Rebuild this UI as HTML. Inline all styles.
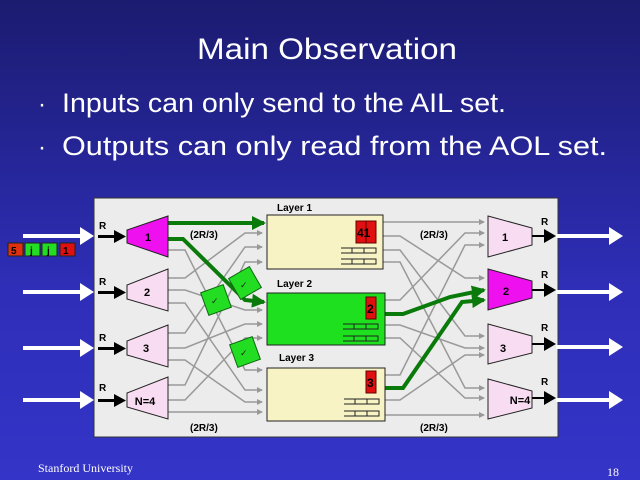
<!DOCTYPE html>
<html><head><style>
html,body{margin:0;padding:0;}
body{width:640px;height:480px;overflow:hidden;background:linear-gradient(#1b1b70,#2e2eb8 60%,#3434c8);}
svg{display:block;}
</style></head><body>
<svg width="640" height="480" viewBox="0 0 640 480" xmlns="http://www.w3.org/2000/svg" font-family="Liberation Sans, sans-serif">
<defs>
<marker id="ga" markerWidth="6" markerHeight="6" refX="5" refY="3" orient="auto" markerUnits="userSpaceOnUse"><path d="M0,0L6,3L0,6z" fill="#999"/></marker>
<marker id="gg" markerWidth="14" markerHeight="14" refX="12" refY="7" orient="auto" markerUnits="userSpaceOnUse"><path d="M0,0L14,7L0,14z" fill="#0a7a0a"/></marker>
</defs>
<text x="197" y="59" fill="#fff" font-size="30" textLength="260" lengthAdjust="spacingAndGlyphs">Main Observation</text>
<text x="38" y="112" fill="#fff" font-size="24">·</text>
<text x="62" y="112" fill="#fff" font-size="27" textLength="444" lengthAdjust="spacingAndGlyphs">Inputs can only send to the AIL set.</text>
<text x="38" y="155" fill="#fff" font-size="24">·</text>
<text x="62" y="155" fill="#fff" font-size="27" textLength="545" lengthAdjust="spacingAndGlyphs">Outputs can only read from the AOL set.</text>

<rect x="94" y="198" width="464" height="239" fill="#ececec" stroke="#333"/>

<g stroke="#999" stroke-width="1.5" fill="none" marker-end="url(#ga)">
<path d="M168,250 L185,250 L245,370 L262,370"/>
<path d="M168,278 L185,278 L245,233 L262,233"/>
<path d="M168,290 L185,290 L245,310 L262,310"/>
<path d="M168,303 L185,303 L245,390 L262,390"/>
<path d="M168,333 L185,333 L245,247 L262,247"/>
<path d="M168,348 L185,348 L245,324 L262,324"/>
<path d="M168,360 L185,360 L245,402 L262,402"/>
<path d="M168,385 L185,385 L245,262 L262,262"/>
<path d="M168,400 L185,400 L245,338 L262,338"/>
<path d="M168,412 L185,412 L262,412"/>
<path d="M383,222 L484,222"/>
<path d="M383,236 L400,236 L465,278 L484,278"/>
<path d="M383,250 L400,250 L465,336 L484,336"/>
<path d="M383,262 L400,262 L465,388 L484,388"/>
<path d="M383,300 L400,300 L465,233 L484,233"/>
<path d="M383,325 L400,325 L465,348 L484,348"/>
<path d="M383,338 L400,338 L465,398 L484,398"/>
<path d="M383,375 L400,375 L465,245 L484,245"/>
<path d="M383,400 L400,400 L465,355 L484,355"/>
<path d="M383,415 L484,415"/>
</g>
<g stroke="#0a7a0a" stroke-width="4" fill="none" marker-end="url(#gg)">
<path d="M168,223 L264,223"/>
<path d="M168,239 L183,239 L245,300 L264,302"/>
<path d="M385,314 L403,314 L450,297 L484,290"/>
<path d="M385,388 L403,388 L462,302 L484,300"/>
</g>

<text x="277" y="211" font-size="10" font-weight="bold">Layer 1</text>
<text x="277" y="287" font-size="10" font-weight="bold">Layer 2</text>
<text x="279" y="361" font-size="10" font-weight="bold">Layer 3</text>
<rect x="267" y="215" width="116" height="54" fill="#f7f3c4" stroke="#222"/>
<rect x="267" y="293" width="118" height="52" fill="#1ee01e" stroke="#222"/>
<rect x="267" y="368" width="118" height="53" fill="#f7f3c4" stroke="#222"/>
<rect x="356" y="221" width="20" height="22" fill="#e01010" stroke="#600"/>
<line x1="366" y1="221" x2="366" y2="243" stroke="#600"/>
<text x="357" y="237" font-size="12" font-weight="bold">41</text>
<rect x="366" y="297" width="10" height="22" fill="#e01010" stroke="#600"/>
<text x="367" y="313" font-size="12" font-weight="bold">2</text>
<rect x="366" y="371" width="10" height="22" fill="#e01010" stroke="#600"/>
<text x="367" y="387" font-size="12" font-weight="bold">3</text>
<g stroke="#222" fill="none" stroke-width="1">
<path d="M341,248h35v5h-35M352,248v5M364,248v5M341,259h35v5h-35M352,259v5M364,259v5"/>
<path d="M343,324h35v5h-35M354,324v5M366,324v5M343,336h35v5h-35M354,336v5M366,336v5"/>
<path d="M344,399h35v5h-35M355,399v5M367,399v5M344,411h35v5h-35M355,411v5M367,411v5"/>
</g>

<g fill="#22dd22" stroke="#116611">
<rect x="-12" y="-12" width="24" height="24" transform="translate(245,283) rotate(-30)"/>
<rect x="-12" y="-12" width="24" height="24" transform="translate(216,300) rotate(-20)"/>
<rect x="-12" y="-12" width="24" height="24" transform="translate(245,352) rotate(-20)"/>
</g>
<g font-size="9" fill="#222"><text x="240" y="288">✓</text><text x="211" y="304">✓</text><text x="240" y="356">✓</text></g>

<polygon points="127,230 168,216 168,257 127,243" fill="#ee10ee" stroke="#222"/>
<polygon points="127,285 168,269 168,311 127,299" fill="#f8ddf2" stroke="#222"/>
<polygon points="127,341 168,325 168,367 127,355" fill="#f8ddf2" stroke="#222"/>
<polygon points="127,393 168,377 168,419 127,407" fill="#f8ddf2" stroke="#222"/>
<g font-size="11" font-weight="bold" text-anchor="middle">
<text x="148" y="241">1</text><text x="147" y="296">2</text><text x="146" y="352">3</text><text x="145" y="405">N=4</text>
</g>
<polygon points="488,216 532,228 532,245 488,257" fill="#f8ddf2" stroke="#222"/>
<polygon points="488,269 532,281 532,298 488,310" fill="#ee10ee" stroke="#222"/>
<polygon points="488,324 532,336 532,353 488,364" fill="#f8ddf2" stroke="#222"/>
<polygon points="488,379 532,391 532,408 488,419" fill="#f8ddf2" stroke="#222"/>
<g font-size="11" font-weight="bold" text-anchor="middle">
<text x="505" y="241">1</text><text x="506" y="295">2</text><text x="503" y="352">3</text><text x="520" y="404">N=4</text>
</g>

<g font-size="10" font-weight="bold">
<text x="99" y="229">R</text><text x="99" y="285">R</text><text x="99" y="341">R</text><text x="99" y="391">R</text>
<text x="541" y="225">R</text><text x="541" y="278">R</text><text x="541" y="331">R</text><text x="541" y="385">R</text>
</g>
<g font-size="10" font-weight="bold">
<text x="190" y="238">(2R/3)</text><text x="420" y="238">(2R/3)</text>
<text x="190" y="431">(2R/3)</text><text x="420" y="431">(2R/3)</text>
</g>
<g>
<path d="M98,235h16v-5l12,6.5l-12,6.5v-5h-16z" fill="#000"/>
<path d="M98,291h16v-5l12,6.5l-12,6.5v-5h-16z" fill="#000"/>
<path d="M98,347h16v-5l12,6.5l-12,6.5v-5h-16z" fill="#000"/>
<path d="M98,399h16v-5l12,6.5l-12,6.5v-5h-16z" fill="#000"/>
<path d="M532,235h12v-6l12,7l-12,7v-6h-12z" fill="#000"/>
<path d="M532,289h12v-6l12,7l-12,7v-6h-12z" fill="#000"/>
<path d="M532,343h12v-6l12,7l-12,7v-6h-12z" fill="#000"/>
<path d="M532,397h12v-6l12,7l-12,7v-6h-12z" fill="#000"/>
</g>
<g fill="#fff">
<path d="M23,234h57v-7l14,9l-14,9v-7h-57z"/>
<path d="M23,290h57v-7l14,9l-14,9v-7h-57z"/>
<path d="M23,346h57v-7l14,9l-14,9v-7h-57z"/>
<path d="M23,398h57v-7l14,9l-14,9v-7h-57z"/>
<path d="M556,234h53v-7l14,9l-14,9v-7h-53z"/>
<path d="M556,290h53v-7l14,9l-14,9v-7h-53z"/>
<path d="M556,345h53v-7l14,9l-14,9v-7h-53z"/>
<path d="M556,398h53v-7l14,9l-14,9v-7h-53z"/>
</g>

<rect x="8" y="243" width="15" height="13" fill="#e03010" stroke="#222"/>
<rect x="25" y="243" width="15" height="13" fill="#22dd22" stroke="#222"/>
<rect x="42" y="243" width="15" height="13" fill="#22dd22" stroke="#222"/>
<rect x="60" y="243" width="15" height="13" fill="#e01010" stroke="#222"/>
<g font-size="10" font-weight="bold">
<text x="11" y="254">5</text><text x="30" y="254">j</text><text x="47" y="254">j</text><text x="63" y="254">1</text>
</g>

<text x="38" y="472" fill="#fff" font-size="12" font-family="Liberation Serif, serif">Stanford University</text>
<text x="607" y="476" fill="#fff" font-size="12" font-family="Liberation Serif, serif">18</text>
</svg>
</body></html>
